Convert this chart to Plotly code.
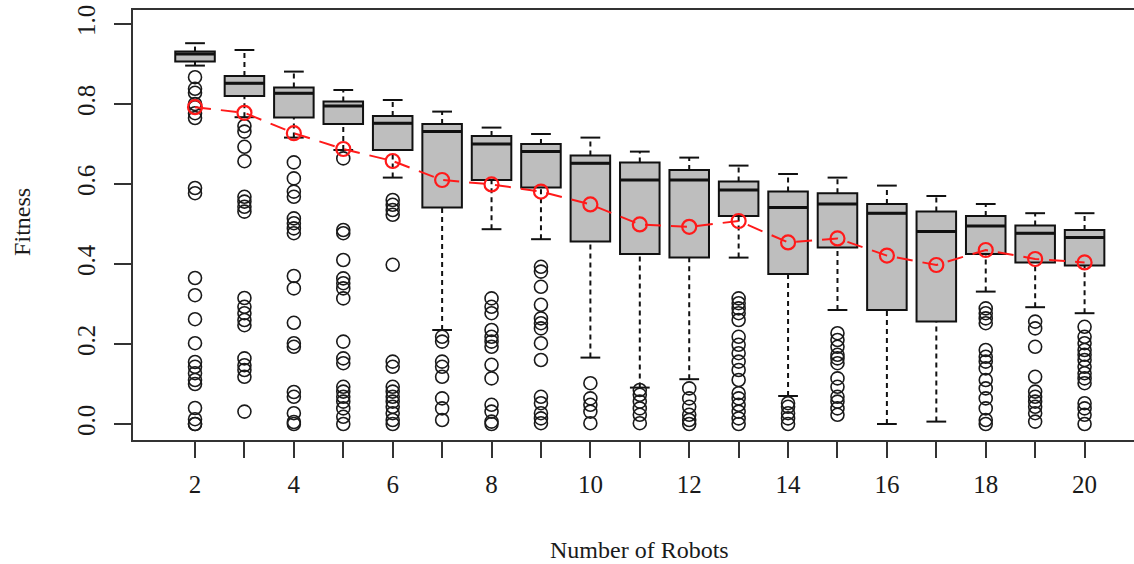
import plotly.graph_objects as go

robots = list(range(2, 21))
whisk_high = [0.952, 0.935, 0.881, 0.835, 0.810, 0.781, 0.741, 0.725, 0.716, 0.681,
              0.666, 0.646, 0.625, 0.616, 0.596, 0.570, 0.550, 0.527, 0.527]
q3 = [0.931, 0.870, 0.841, 0.806, 0.770, 0.750, 0.720, 0.700, 0.671, 0.654,
      0.635, 0.606, 0.581, 0.577, 0.550, 0.531, 0.520, 0.496, 0.485]
median = [0.925, 0.852, 0.827, 0.795, 0.752, 0.731, 0.700, 0.681, 0.652, 0.610,
          0.610, 0.585, 0.541, 0.550, 0.527, 0.481, 0.495, 0.477, 0.466]
q1 = [0.906, 0.820, 0.766, 0.750, 0.685, 0.541, 0.610, 0.591, 0.456, 0.425,
      0.416, 0.520, 0.375, 0.441, 0.285, 0.256, 0.425, 0.404, 0.396]
whisk_low = [0.896, 0.767, 0.716, 0.685, 0.616, 0.235, 0.487, 0.462, 0.166, 0.091,
             0.112, 0.416, 0.070, 0.285, 0.0, 0.006, 0.331, 0.292, 0.277]
means = [0.792, 0.778, 0.727, 0.6875, 0.6575, 0.61, 0.599, 0.581, 0.549, 0.499,
         0.493, 0.5075, 0.454, 0.464, 0.421, 0.3975, 0.435, 0.4125, 0.404]
outliers = [
    [0.867, 0.838, 0.828, 0.800, 0.792, 0.777, 0.765, 0.590, 0.577, 0.365, 0.322, 0.262,
     0.202, 0.155, 0.143, 0.127, 0.110, 0.100, 0.040, 0.012, 0.0, 0.0],
    [0.745, 0.731, 0.693, 0.657, 0.568, 0.556, 0.543, 0.531, 0.315, 0.293, 0.277, 0.260,
     0.247, 0.164, 0.147, 0.135, 0.118, 0.031],
    [0.654, 0.614, 0.581, 0.568, 0.514, 0.502, 0.489, 0.477, 0.370, 0.339, 0.253, 0.202,
     0.193, 0.080, 0.068, 0.027, 0.005, 0.0],
    [0.664, 0.485, 0.477, 0.410, 0.364, 0.352, 0.339, 0.314, 0.206, 0.164, 0.152, 0.093,
     0.081, 0.068, 0.056, 0.039, 0.018, 0.0],
    [0.560, 0.548, 0.535, 0.523, 0.398, 0.156, 0.143, 0.093, 0.081, 0.068, 0.056, 0.043,
     0.027, 0.010, 0.0],
    [0.218, 0.206, 0.156, 0.143, 0.118, 0.064, 0.039, 0.010],
    [0.314, 0.293, 0.277, 0.235, 0.218, 0.206, 0.193, 0.148, 0.114, 0.048, 0.031, 0.006, 0.0],
    [0.393, 0.381, 0.343, 0.298, 0.264, 0.252, 0.239, 0.202, 0.160, 0.068, 0.052, 0.027,
     0.014, 0.002],
    [0.102, 0.064, 0.048, 0.031, 0.002],
    [0.085, 0.073, 0.056, 0.039, 0.023, 0.002],
    [0.089, 0.064, 0.043, 0.023, 0.010, 0.0],
    [0.314, 0.302, 0.289, 0.277, 0.260, 0.218, 0.198, 0.177, 0.156, 0.135, 0.110, 0.077,
     0.064, 0.048, 0.031, 0.014, 0.0],
    [0.052, 0.043, 0.027, 0.014, 0.0],
    [0.227, 0.210, 0.193, 0.173, 0.164, 0.152, 0.114, 0.093, 0.068, 0.056, 0.039, 0.023],
    [],
    [],
    [0.289, 0.277, 0.264, 0.252, 0.185, 0.168, 0.156, 0.139, 0.110, 0.089, 0.064, 0.039,
     0.010, 0.0],
    [0.256, 0.239, 0.193, 0.118, 0.081, 0.068, 0.056, 0.043, 0.027, 0.006],
    [0.243, 0.218, 0.202, 0.185, 0.173, 0.160, 0.143, 0.127, 0.114, 0.102, 0.052, 0.039,
     0.023, 0.0],
]
x_tick_vals = list(range(2, 21))
x_tick_text = [str(v) if v % 2 == 0 else "" for v in x_tick_vals]
y_tick_vals = [0.0, 0.2, 0.4, 0.6, 0.8, 1.0]

BOXW = 0.8
CAPW = 0.4
FONT = "Liberation Serif"
TXT = "#1a1a1a"

fig = go.Figure()

# whiskers (dashed)
wx, wy = [], []
for x, lo, a, b, hi in zip(robots, whisk_low, q1, q3, whisk_high):
    wx += [x, x, None, x, x, None]
    wy += [lo, a, None, b, hi, None]
fig.add_trace(go.Scatter(x=wx, y=wy, mode="lines", hoverinfo="skip", showlegend=False,
                         line=dict(color="#111111", width=2, dash="5px,4px")))
# staples
cx, cy = [], []
for x, lo, hi in zip(robots, whisk_low, whisk_high):
    cx += [x - CAPW / 2, x + CAPW / 2, None, x - CAPW / 2, x + CAPW / 2, None]
    cy += [lo, lo, None, hi, hi, None]
fig.add_trace(go.Scatter(x=cx, y=cy, mode="lines", hoverinfo="skip", showlegend=False,
                         line=dict(color="#111111", width=2)))

# boxes
fig.add_trace(go.Box(x=robots, q1=q1, median=median, q3=q3, lowerfence=q1, upperfence=q3,
                     width=BOXW, whiskerwidth=0, fillcolor="#BEBEBE",
                     line=dict(color="#111111", width=2), showlegend=False, hoverinfo="skip"))
# thick median lines
mx, my = [], []
for x, m in zip(robots, median):
    mx += [x - BOXW / 2, x + BOXW / 2, None]
    my += [m, m, None]
fig.add_trace(go.Scatter(x=mx, y=my, mode="lines", hoverinfo="skip", showlegend=False,
                         line=dict(color="#111111", width=3)))

# outliers
ox, oy = [], []
for x, vals in zip(robots, outliers):
    for v in vals:
        ox.append(x)
        oy.append(v)
fig.add_trace(go.Scatter(x=ox, y=oy, mode="markers", hoverinfo="skip", showlegend=False,
                         marker=dict(symbol="circle-open", size=13, color="#1a1a1a",
                                     line=dict(width=1.6, color="#1a1a1a"))))

# means
fig.add_trace(go.Scatter(x=robots, y=means, mode="lines+markers", showlegend=False,
                         hoverinfo="skip",
                         line=dict(color="#FF1A1A", width=2, dash="16px,10px"),
                         marker=dict(symbol="circle-open", size=14, color="#FF1A1A",
                                     line=dict(width=2.2, color="#FF1A1A"))))

fig.update_layout(
    width=1134, height=564,
    margin=dict(l=133, r=0, t=10, b=124, autoexpand=False),
    paper_bgcolor="white", plot_bgcolor="white",
    font=dict(family=FONT, color=TXT, size=24),
    xaxis=dict(range=[0.745, 21.0], tickmode="array", tickvals=x_tick_vals,
               ticktext=x_tick_text, ticks="outside", ticklen=16, tickwidth=2,
               tickcolor="#333333", showline=True, linecolor="#333333", linewidth=2,
               mirror=True, showgrid=False, zeroline=False, automargin=False,
               tickfont=dict(family=FONT, size=25, color=TXT), ticklabelstandoff=5),
    yaxis=dict(range=[-0.04, 1.035], tickmode="array", tickvals=y_tick_vals,
               tickformat=".1f", ticks="outside", ticklen=17, tickwidth=2,
               tickcolor="#333333", showline=True, linecolor="#333333", linewidth=2,
               showgrid=False, zeroline=False, tickangle=-90, automargin=False,
               tickfont=dict(family=FONT, size=25, color=TXT), ticklabelstandoff=9),
    annotations=[
        dict(text="Number of Robots", xref="paper", yref="paper", x=0.506, y=-0.256,
             xanchor="center", yanchor="middle", showarrow=False,
             font=dict(family=FONT, size=24, color=TXT)),
        dict(text="Fitness", xref="paper", yref="paper", x=-0.111, y=0.507,
             xanchor="center", yanchor="middle", showarrow=False, textangle=-90,
             font=dict(family=FONT, size=24, color=TXT)),
    ],
)

fig.write_html("out.html", config={"displayModeBar": False},
               post_script="document.body.style.margin='0';document.body.style.padding='0';")
